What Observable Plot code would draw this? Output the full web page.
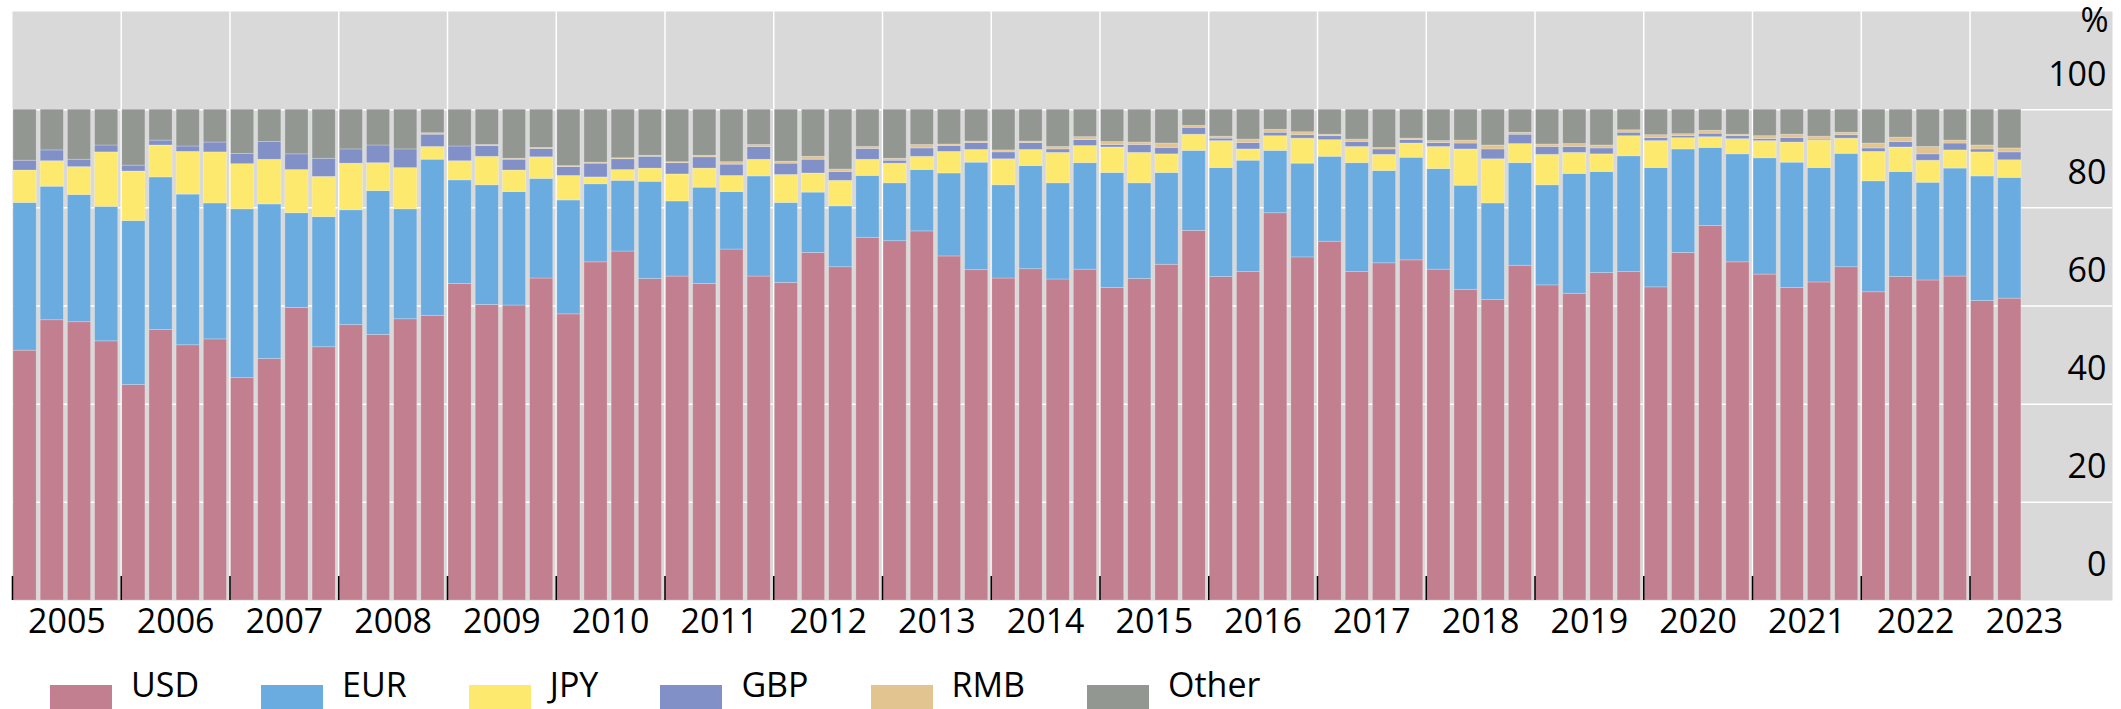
<!DOCTYPE html>
<html>
<head>
<meta charset="utf-8">
<script src="https://cdn.jsdelivr.net/npm/d3@7"></script>
<script src="https://cdn.jsdelivr.net/npm/@observablehq/plot@0.6"></script>
<style>
  html, body { margin: 0; padding: 0; background: #fff; overflow: hidden; }
  #wrap { position: relative; width: 2121px; height: 709px; font-family: "Open Sans", sans-serif; }
  #chart svg { display: block; }
  #legend { position: absolute; left: 50px; top: 667px; display: flex; align-items: flex-start; }
  .item { display: flex; align-items: flex-start; margin-right: 62px; }
  .sw { width: 62px; height: 30px; margin-top: 18px; margin-right: 19px; }
  .lab { font-size: 34px; line-height: 34px; color: #000; }
</style>
</head>
<body>
<div id="wrap">
  <div id="chart"></div>
  <div id="legend"></div>
</div>
<script>
// Quarterly periods, 2005 Q1 to 2023 Q2
const periods = d3.range(2005, 2024).flatMap(y => [1, 2, 3, 4].map(q => `${y}-Q${q}`)).slice(0, 74);

const currencies = ["USD", "EUR", "JPY", "GBP", "RMB", "Other"];
const colors = ["#c27f8f", "#6aace0", "#fee96f", "#8190c6", "#e2c491", "#929891"];

// Shares, %
const usd = [50.9,57.1,56.7,52.8, 43.9,55.1,52.0,53.2, 45.3,49.2,59.6,51.6, 56.1,54.1,57.3,58.0,
  64.5,60.2,60.1,65.6, 58.3,68.9,71.1,65.5, 66.0,64.5,71.5,66.0, 64.7,70.8,67.9,73.9,
  73.2,75.2,70.1,67.3, 65.6,67.5,65.4,67.4, 63.7,65.5,68.4,75.3, 65.9,66.9,78.9,69.9,
  73.1,66.9,68.7,69.3, 67.4,63.3,61.2,68.2, 64.2,62.5,66.7,66.9, 63.8,70.8,76.3,68.9,
  66.4,63.7,64.8,67.9, 62.8,65.9,65.2,66.0, 61.0,61.5];
const eur = [30.1,27.2,25.9,27.4, 33.4,31.1,30.7,27.7, 34.4,31.5,19.3,26.5, 23.4,29.3,22.4,31.8,
  21.1,24.4,23.1,20.3, 23.2,15.9,14.4,19.8, 15.3,19.6,11.7,20.4, 16.3,12.3,12.4,12.6,
  11.8,12.5,16.9,21.9, 19.0,21.0,19.6,21.7, 23.4,19.5,18.7,16.3, 22.2,22.7,12.7,19.1,
  17.3,22.2,18.8,20.9, 20.5,21.2,19.7,20.9, 20.4,24.4,20.6,23.6, 24.3,21.1,15.9,22.0,
  23.7,25.5,23.3,23.1, 22.6,21.4,19.9,22.0, 25.4,24.6];
const jpy = [6.6,5.2,5.7,11.1, 10.1,6.5,8.7,10.4, 9.2,9.1,8.8,8.2, 9.5,5.7,8.4,2.6,
  3.9,5.8,4.4,4.4, 5.0,1.4,2.2,2.7, 5.5,3.9,3.3,3.4, 5.7,3.9,5.2,3.3,
  4.0,2.7,4.4,2.6, 5.3,3.3,6.2,3.5, 5.2,6.2,3.8,3.3, 5.5,2.3,3.0,5.1,
  3.4,3.3,3.3,2.9, 4.5,7.4,9.0,3.9, 6.2,4.3,3.6,4.1, 5.5,2.3,2.2,3.1,
  3.5,4.1,5.6,3.1, 6.0,5.0,4.5,3.7, 4.9,3.6];
const gbp = [2.0,2.2,1.5,1.4, 1.2,1.0,1.1,2.0, 2.1,3.6,3.2,3.7, 2.9,3.6,3.8,2.5,
  3.0,2.2,2.2,1.7, 1.8,2.8,2.2,2.4, 2.3,2.3,2.3,2.6, 2.3,2.8,1.8,2.2,
  0.6,1.7,1.2,1.4, 1.4,1.4,0.7,1.2, 0.5,1.6,1.3,1.4, 0.5,1.3,0.7,0.7,
  0.8,1.0,1.1,0.7, 0.8,1.2,2.0,1.9, 1.6,1.2,1.2,0.7, 0.6,0.4,0.7,0.6,
  0.4,0.9,0.2,0.7, 0.7,1.1,1.3,1.4, 0.6,1.6];
const rmb = [0,0,0,0, 0,0,0,0, 0,0,0,0, 0,0,0,0.3,
  0,0.2,0.2,0.2, 0.2,0.2,0.2,0.2, 0.2,0.3,0.5,0.4, 0.4,0.6,0.5,0.4,
  0.4,0.7,0.3,0.3, 0.4,0.3,0.5,0.6, 0.6,0.5,0.9,0.4, 0.4,0.7,0.6,0.6,
  0.3,0.5,0.3,0.3, 0.4,0.6,0.8,0.4, 0.5,0.6,0.6,0.5, 0.6,0.4,0.6,0.3,
  0.6,0.7,0.6,0.5, 1.0,0.9,1.5,0.6, 0.8,0.8];
const other = [10.4,8.3,10.2,7.3, 11.4,6.3,7.5,6.7, 9.0,6.6,9.1,10.0, 8.1,7.3,8.1,4.8,
  7.5,7.2,10.0,7.8, 11.5,10.8,9.9,9.4, 10.7,9.4,10.7,7.2, 10.6,9.6,12.2,7.6,
  10.0,7.2,7.1,6.5, 8.3,6.5,7.6,5.6, 6.6,6.7,6.9,3.3, 5.5,6.1,4.1,4.6,
  5.1,6.1,7.8,5.9, 6.4,6.3,7.3,4.7, 7.1,7.0,7.3,4.2, 5.2,5.0,4.3,5.1,
  5.4,5.1,5.5,4.7, 6.9,5.7,7.6,6.3, 7.3,7.9];

const yearTicks = d3.range(2005, 2024);
const yTicks = [0, 20, 40, 60, 80, 100];

const series = [usd, eur, jpy, gbp, rmb, other];

// stacked table built from the arrays above
const rows = [];
periods.forEach((p, i) => {
  const [yr, q] = p.split("-Q").map(Number);
  const t = yr + (q - 1) / 4;
  let base = 0;
  currencies.forEach((c, k) => {
    const v = series[k][i];
    rows.push({period: p, t, currency: c, value: v, y1: base, y2: base + v});
    base += v;
  });
});

const chart = Plot.plot({
  width: 2121,
  height: 645,
  marginTop: 11,
  marginBottom: 45,
  marginLeft: 12,
  marginRight: 9,
  style: {fontFamily: "'Open Sans', sans-serif", fontSize: "34px", background: "#fff", overflow: "visible"},
  x: {domain: [2005, 2024.31], axis: null},
  y: {domain: [0, 120], axis: null},
  color: {domain: currencies, range: colors},
  marks: [
    Plot.frame({fill: "#d9d9d9", stroke: null}),
    Plot.ruleY(yTicks.filter(d => d > 0), {y: d => d, stroke: "#fff", strokeWidth: 1.5}),
    Plot.ruleX(yearTicks.slice(1), {x: d => d, stroke: "#fff", strokeWidth: 1.5}),
    Plot.rectY(rows, {
      x1: d => d.t, x2: d => d.t + 0.25, y1: "y1", y2: "y2",
      fill: "currency", insetLeft: 1, insetRight: 3,
      stroke: "#ffffff", strokeOpacity: 0.3, strokeWidth: 0.8
    }),
    Plot.ruleX(yearTicks, {x: d => d, y1: 0, y2: 4.9, stroke: "#000", strokeWidth: 1.6}),
    Plot.text(yearTicks, {x: d => d + 0.5, text: d => String(d), frameAnchor: "bottom", lineAnchor: "top", dy: 8, fontSize: 34, fill: "#000"}),
    Plot.text(yTicks, {y: d => d, text: d => String(d), frameAnchor: "right", textAnchor: "end", dx: -6, dy: -35, fontSize: 34, fill: "#000"}),
    Plot.text(["%"], {text: d => d, frameAnchor: "top-right", textAnchor: "end", lineAnchor: "middle", dx: -4, dy: 10, fontSize: 34, fill: "#000"})
  ]
});
document.getElementById("chart").appendChild(chart);

const legend = d3.select("#legend");
currencies.forEach((c, k) => {
  const it = legend.append("div").attr("class", "item");
  it.append("div").attr("class", "sw").style("background", colors[k]);
  it.append("div").attr("class", "lab").text(c);
});
</script>
</body>
</html>
